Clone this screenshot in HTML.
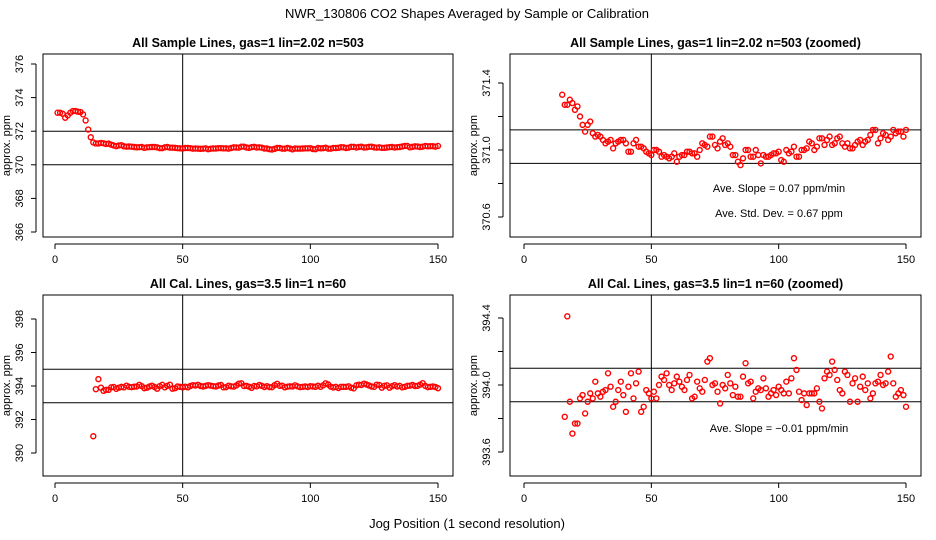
<!DOCTYPE html>
<html><head><meta charset="utf-8"><style>
html,body{margin:0;padding:0;background:#fff;overflow:hidden;width:936px;height:540px;position:relative}
svg{display:block;position:absolute;left:0;top:0;overflow:hidden}
svg text{font-family:"Liberation Sans",sans-serif;fill:#000}
</style></head><body>
<svg id="chart" width="936" height="540" viewBox="0 0 936 540" xmlns="http://www.w3.org/2000/svg">
<text x="467" y="18" text-anchor="middle" font-size="13">NWR_130806  CO2 Shapes Averaged by Sample or Calibration</text>
<text x="467" y="528" text-anchor="middle" font-size="13">Jog Position (1 second resolution)</text>
</svg>
<script>
const xTicks = [0, 50, 100, 150];
const sampleX = [];
for (let i = 1; i <= 150; i++) sampleX.push(i);
const sampleY = [373.1,373.1,373.04,372.8,372.94,373.1,373.2,373.2,373.16,373.14,373.0,372.64,372.1,371.64,
371.33,371.27,371.27,371.30,371.28,371.24,371.26,371.20,371.15,371.11,371.15,371.17,371.10,371.08,371.09,371.08,
371.06,371.04,371.05,371.06,371.01,371.04,371.05,371.06,371.06,371.04,370.99,370.99,371.04,371.06,371.02,371.02,
371.01,370.99,370.98,370.97,371.00,371.00,370.99,370.96,370.97,370.96,370.95,370.96,370.98,370.93,370.96,370.97,
370.97,370.99,370.99,370.98,370.98,370.96,371.00,371.04,371.03,371.02,371.08,371.08,371.03,371.01,371.05,371.07,
371.03,371.04,371.02,370.97,370.97,370.93,370.91,370.95,371.00,371.00,370.96,370.96,371.00,370.97,370.92,370.97,
370.96,370.96,370.97,370.98,370.98,370.99,370.94,370.93,371.00,370.98,370.99,371.02,370.96,370.96,371.00,371.00,
371.01,371.05,371.04,371.00,371.02,371.07,371.07,371.03,371.06,371.08,371.03,371.04,371.07,371.08,371.04,371.02,
371.04,371.01,371.01,371.03,371.05,371.06,371.03,371.05,371.06,371.09,371.12,371.12,371.04,371.07,371.10,371.09,
371.06,371.08,371.12,371.10,371.11,371.11,371.08,371.12];
const calX = [];
for (let i = 15; i <= 150; i++) calX.push(i);
const calY = [391.0,393.81,394.41,393.90,393.71,393.77,393.77,393.92,393.94,393.83,393.90,393.95,393.92,394.02,393.95,
393.93,393.96,393.97,394.07,393.99,393.87,393.90,393.97,394.02,393.94,393.84,393.99,394.07,393.92,394.01,394.08,
393.84,393.87,393.97,393.95,393.92,393.96,393.92,394.00,394.05,394.03,394.07,394.00,393.97,394.01,394.05,394.02,
393.99,393.97,394.03,394.06,393.92,393.93,394.02,393.98,393.96,394.03,394.14,394.16,394.00,394.01,393.96,393.89,
394.00,393.98,394.06,394.01,393.94,393.99,393.93,393.93,394.05,394.13,394.01,394.02,393.92,393.96,393.98,393.97,
394.04,393.98,393.93,393.95,393.97,393.94,393.99,393.97,393.95,394.02,393.95,394.04,394.16,394.09,393.96,393.91,
393.95,393.88,393.95,393.95,393.95,393.98,393.90,393.86,394.04,394.08,394.06,394.14,394.09,394.03,393.97,393.95,
394.08,394.06,393.90,394.01,394.04,393.90,393.99,394.05,393.97,394.01,393.92,393.95,394.01,394.02,394.06,394.00,
394.01,394.08,394.17,394.01,393.93,393.95,393.97,393.94,393.87];
const p1Ticks = [366, 368, 370, 372, 374, 376], p1Lines = [370, 372];
const p2Ticks = [370.6, 370.8, 371.0, 371.2, 371.4], p2Labels = ["370.6", "", "371.0", "", "371.4"], p2Lines = [370.92, 371.12];
const p3Ticks = [390, 392, 394, 396, 398], p3Lines = [393, 395];
const p4Ticks = [393.6, 393.8, 394.0, 394.2, 394.4], p4Labels = ["393.6", "", "394.0", "", "394.4"], p4Lines = [393.9, 394.1];

const svg = document.getElementById('chart');
const NS = 'http://www.w3.org/2000/svg';
function mk(tag, attrs, parent) {
  const e = document.createElementNS(NS, tag);
  for (const k in attrs) e.setAttribute(k, attrs[k]);
  (parent || svg).appendChild(e);
  return e;
}
function panel(cfg) {
  const g = mk('g', {});
  
  
  const sx = v => cfg.x0 + (v - 0) * (cfg.x150 - cfg.x0) / 150;
  const sy = v => cfg.yA + (v - cfg.vA) * (cfg.yB - cfg.yA) / (cfg.vB - cfg.vA);
  const t = mk('text', {x: cfg.bx + cfg.bw / 2, y: cfg.by - 7, 'text-anchor': 'middle', 'font-size': 12.5, 'font-weight': 'bold'}, g);
  t.textContent = cfg.title;
  
  
  const box = mk('rect', {x: cfg.bx, y: cfg.by, width: cfg.bw, height: cfg.bh, fill: 'none', stroke: '#000', 'stroke-width': 1}, g);
  
  
  const axY = cfg.by + cfg.bh + 7;
  mk('line', {x1: sx(xTicks[0]), x2: sx(xTicks[xTicks.length - 1]), y1: axY, y2: axY, stroke: '#000'}, g);
  xTicks.forEach(v => {
    mk('line', {x1: sx(v), x2: sx(v), y1: axY, y2: axY + 5, stroke: '#000'}, g);
    const tl = mk('text', {x: sx(v), y: axY + 19, 'text-anchor': 'middle', 'font-size': 11}, g);
    tl.textContent = v;
    
    
  });
  const axX = cfg.bx - 7;
  mk('line', {x1: axX, x2: axX, y1: sy(cfg.ticks[0]), y2: sy(cfg.ticks[cfg.ticks.length - 1]), stroke: '#000'}, g);
  cfg.ticks.forEach((v, i) => {
    mk('line', {x1: axX - 5, x2: axX, y1: sy(v), y2: sy(v), stroke: '#000'}, g);
    const lab = cfg.labels ? cfg.labels[i] : String(v);
    if (lab) {
      const tl = mk('text', {x: axX - 13, y: sy(v), 'text-anchor': 'middle', 'font-size': 11, transform: `rotate(-90 ${axX - 13} ${sy(v)})`}, g);
      tl.textContent = lab;
      
      
    }
  });
  const yt = mk('text', {x: cfg.bx - 33, y: cfg.by + cfg.bh / 2, 'text-anchor': 'middle', 'font-size': 11, transform: `rotate(-90 ${cfg.bx - 33} ${cfg.by + cfg.bh / 2})`}, g);
  yt.textContent = 'approx. ppm';
  
  
  cfg.lines.forEach(v => {
    const l = mk('line', {x1: cfg.bx, x2: cfg.bx + cfg.bw, y1: sy(v), y2: sy(v), stroke: '#000'}, g);
    
    
  });
  const vl = mk('line', {x1: sx(50), x2: sx(50), y1: cfg.by, y2: cfg.by + cfg.bh, stroke: '#000'}, g);
  
  
  const pg = mk('g', {}, g);
  cfg.xs.forEach((xv, i) => {
    const px = sx(xv), py = sy(cfg.ys[i]);
    if (px < cfg.bx || px > cfg.bx + cfg.bw || py < cfg.by || py > cfg.by + cfg.bh) return;
    const c = mk('circle', {cx: px, cy: py, r: 2.5, fill: 'none', stroke: '#f00', 'stroke-width': 1.4}, pg);
    
    
  });
  (cfg.notes || []).forEach(n => {
    const tx = mk('text', {x: n[0], y: n[1], 'text-anchor': 'middle', 'font-size': 11}, g);
    tx.textContent = n[2];
    
    
  });
}
panel({name: 'sample-panel', title: 'All Sample Lines, gas=1 lin=2.02 n=503', bx: 43, by: 54, bw: 410, bh: 183,
  x0: 55, x150: 438, vA: 376, yA: 64, vB: 366, yB: 232, ticks: p1Ticks, lines: p1Lines, xs: sampleX, ys: sampleY});
panel({name: 'sample-zoomed-panel', title: 'All Sample Lines, gas=1 lin=2.02 n=503 (zoomed)', bx: 510, by: 54, bw: 411, bh: 183,
  x0: 524, x150: 906, vA: 371.4, yA: 83, vB: 370.6, yB: 217, ticks: p2Ticks, labels: p2Labels, lines: p2Lines,
  xs: sampleX.slice(14), ys: sampleY.slice(14),
  notes: [[779, 192, 'Ave. Slope =  0.07  ppm/min'], [779, 217, 'Ave. Std. Dev. =  0.67  ppm']]});
panel({name: 'cal-panel', title: 'All Cal. Lines, gas=3.5 lin=1 n=60', bx: 43, by: 295, bw: 410, bh: 181,
  x0: 55, x150: 438, vA: 398, yA: 319, vB: 390, yB: 453, ticks: p3Ticks, lines: p3Lines, xs: calX, ys: calY});
panel({name: 'cal-zoomed-panel', title: 'All Cal. Lines, gas=3.5 lin=1 n=60 (zoomed)', bx: 510, by: 295, bw: 411, bh: 181,
  x0: 524, x150: 906, vA: 394.4, yA: 318, vB: 393.6, yB: 452, ticks: p4Ticks, labels: p4Labels, lines: p4Lines,
  xs: calX, ys: calY, notes: [[779, 432, 'Ave. Slope =  \u22120.01  ppm/min']]});
</script>
</body></html>
